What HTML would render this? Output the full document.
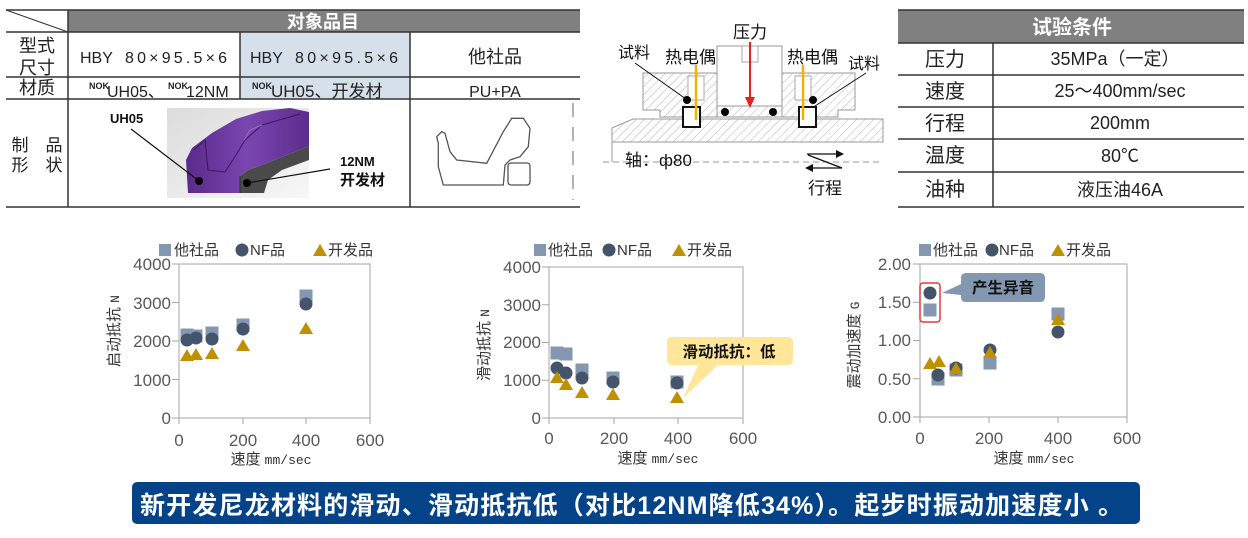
<!DOCTYPE html>
<html><head><meta charset="utf-8"><style>
html,body{margin:0;padding:0;background:#fff;}
svg{display:block;}
text{font-family:"Liberation Sans","Noto Sans CJK SC",sans-serif;}
.tk{font-family:"DejaVu Sans","Liberation Sans",sans-serif;font-size:17px;fill:#595959;}
.lg{font-size:15px;fill:#333;}
.mono{font-family:"Liberation Mono","DejaVu Sans Mono",monospace;}
</style></head><body>
<svg width="1248" height="538" viewBox="0 0 1248 538" xmlns="http://www.w3.org/2000/svg">
<defs>
<pattern id="h" patternUnits="userSpaceOnUse" width="6" height="6" patternTransform="rotate(45)">
<rect width="6" height="6" fill="#fff"/><line x1="0" y1="0" x2="0" y2="6" stroke="#b5b5b5" stroke-width="1"/></pattern>
<linearGradient id="bg" x1="0" y1="0" x2="1" y2="1"><stop offset="0" stop-color="#dcdcdc"/><stop offset="1" stop-color="#f7f7f7"/></linearGradient>
<linearGradient id="pu" x1="0" y1="0" x2="1" y2="0"><stop offset="0" stop-color="#5a2a8a"/><stop offset="0.5" stop-color="#7a45b0"/><stop offset="1" stop-color="#5b2d8c"/></linearGradient>
</defs>

<!-- ===== Left table ===== -->
<rect x="68" y="10" width="512" height="22" fill="#808080"/>
<rect x="240" y="32" width="170" height="67" fill="#d6e0eb"/>
<g stroke="#333" stroke-width="1.5">
<line x1="6" y1="10" x2="580" y2="10"/>
<line x1="6" y1="32" x2="580" y2="32"/>
<line x1="6" y1="77" x2="580" y2="77"/>
<line x1="6" y1="99" x2="580" y2="99"/>
<line x1="6" y1="207" x2="580" y2="207"/>
<line x1="68" y1="10" x2="68" y2="207"/>
<line x1="240" y1="32" x2="240" y2="99"/>
<line x1="410" y1="32" x2="410" y2="207"/>
<line x1="6" y1="10" x2="68" y2="32" stroke-width="1"/>
</g>
<text x="323" y="28" font-size="18" font-weight="bold" fill="#fff" text-anchor="middle">对象品目</text>
<text x="37" y="52" font-size="18" text-anchor="middle" fill="#222">型式</text>
<text x="37" y="74" font-size="18" text-anchor="middle" fill="#222">尺寸</text>
<text x="37" y="94" font-size="18" text-anchor="middle" fill="#222">材质</text>
<text x="37" y="151" font-size="17" text-anchor="middle" fill="#222">制　品</text>
<text x="37" y="171" font-size="17" text-anchor="middle" fill="#222">形　状</text>
<text x="80" y="63" font-size="16" fill="#222">HBY</text>
<text x="125" y="63" font-size="16" fill="#222" textLength="102" lengthAdjust="spacing">80×95.5×6</text>
<text x="250" y="63" font-size="16" fill="#222">HBY</text>
<text x="295" y="63" font-size="16" fill="#222" textLength="103" lengthAdjust="spacing">80×95.5×6</text>
<text x="495" y="63" font-size="18" text-anchor="middle" fill="#222">他社品</text>
<text x="89" y="89" font-size="9" font-weight="bold" fill="#222">NOK</text>
<text x="107" y="97" font-size="16" fill="#222">UH05、</text>
<text x="168" y="89" font-size="9" font-weight="bold" fill="#222">NOK</text>
<text x="186" y="97" font-size="16" fill="#222">12NM</text>
<text x="252" y="89" font-size="9" font-weight="bold" fill="#222">NOK</text>
<text x="271" y="97" font-size="17" fill="#222">UH05、开发材</text>
<text x="495" y="97" font-size="16" text-anchor="middle" fill="#222">PU+PA</text>

<!-- seal picture -->
<rect x="167" y="108" width="142" height="90" fill="url(#bg)"/>
<path d="M240,176 L248,170 L262,165 L309,146 L309,160 L282,170 L268,180 L264,193 L240,193 Z" fill="#4a4a4a"/>
<path d="M188,193 L240,193 L240,176 L248,170 L262,165 L309,146 L309,112 L290,108 L262,111 L236,119 L212,133 L192,148 L186,160 Z" fill="url(#pu)"/>
<path d="M194,150 L205,140 L208,170 L225,172 L236,155 L245,140 L262,125 L300,114" fill="none" stroke="#3c1a60" stroke-width="1"/>
<path d="M244,140 L250,130 L262,125" fill="none" stroke="#9a70c8" stroke-width="1"/>
<path d="M240,176 L240,193" stroke="#2a2a2a" stroke-width="1"/>
<text x="110" y="123" font-size="13" font-weight="bold" fill="#111">UH05</text>
<line x1="131" y1="129" x2="199" y2="181" stroke="#111" stroke-width="1.2"/>
<circle cx="199" cy="181" r="4" fill="#000"/>
<text x="340" y="166" font-size="13" font-weight="bold" fill="#111">12NM</text>
<text x="340" y="185" font-size="15" font-weight="bold" fill="#111">开发材</text>
<line x1="330" y1="169" x2="247" y2="183" stroke="#111" stroke-width="1.2"/>
<circle cx="247" cy="183" r="4" fill="#000"/>

<!-- other company profile -->
<path d="M436.7,136.7 L441.7,131.7 L445,133.3 L450,151.7 L456.7,160 L486.7,163.3 L503.3,131.7 L511.7,118.3 L523.3,118.3 L530,128.3 L528.3,146.7 L520,156.7 L510,160 L505,165 L503.3,185 L443.3,185 L438.3,166.7 L438.3,143.3 Z" fill="none" stroke="#555" stroke-width="1.3"/>
<rect x="508" y="163" width="22" height="22" rx="3" fill="none" stroke="#555" stroke-width="1.3"/>
<line x1="573" y1="103" x2="573" y2="200" stroke="#666" stroke-width="1" stroke-dasharray="14,10"/>

<!-- ===== Middle diagram ===== -->
<polygon points="612,128 633,119 883,119 883,142 612,142" fill="url(#h)" stroke="#999" stroke-width="1"/>
<line x1="612" y1="142" x2="612" y2="162" stroke="#999"/>
<line x1="603" y1="162" x2="883" y2="162" stroke="#999" stroke-dasharray="6,4"/>
<polygon points="643,73 717,73 717,117 660,117 660,110 643,110" fill="url(#h)" stroke="#999"/>
<polygon points="782,73 855,73 855,110 838,110 838,117 782,117" fill="url(#h)" stroke="#999"/>
<rect x="717" y="104" width="65" height="13" fill="url(#h)" stroke="#999"/>
<rect x="717" y="46" width="65" height="60" fill="#fff" stroke="#999"/>
<rect x="742" y="46" width="16" height="16" fill="none" stroke="#aaa"/>
<rect x="688" y="76" width="16" height="24" fill="#fff" stroke="#aaa"/>
<rect x="795" y="76" width="16" height="24" fill="#fff" stroke="#aaa"/>
<rect x="683" y="107" width="17" height="20" fill="#fff" stroke="#111" stroke-width="2"/>
<rect x="799" y="107" width="17" height="20" fill="#fff" stroke="#111" stroke-width="2"/>
<line x1="696" y1="65" x2="696" y2="120" stroke="#f2b200" stroke-width="2.5"/>
<line x1="803" y1="65" x2="803" y2="120" stroke="#f2b200" stroke-width="2.5"/>
<line x1="750" y1="42" x2="750" y2="98" stroke="#e8201c" stroke-width="2"/>
<polygon points="745,97 755,97 750,108" fill="#e8201c"/>
<circle cx="687" cy="100" r="4" fill="#000"/>
<circle cx="725" cy="112" r="4" fill="#000"/>
<circle cx="773" cy="112" r="4" fill="#000"/>
<circle cx="813" cy="100" r="4" fill="#000"/>
<line x1="635" y1="63" x2="686" y2="99" stroke="#111" stroke-width="1"/>
<line x1="866" y1="73" x2="815" y2="106" stroke="#111" stroke-width="1"/>
<text x="750" y="38" font-size="17" text-anchor="middle" fill="#111">压力</text>
<text x="618" y="58" font-size="16" fill="#111">试料</text>
<text x="665" y="63" font-size="17" fill="#111">热电偶</text>
<text x="787" y="63" font-size="17" fill="#111">热电偶</text>
<text x="848" y="69" font-size="16" fill="#111">试料</text>
<text x="625" y="166" font-size="17" fill="#111">轴：ф80</text>
<g stroke="#111" stroke-width="1.3" fill="none">
<line x1="807" y1="154" x2="838" y2="154"/><line x1="808" y1="155" x2="842" y2="168"/><line x1="842" y1="168" x2="811" y2="168"/>
</g>
<polygon points="836,150 844,154 836,158" fill="#111"/>
<polygon points="813,164 805,168 813,172" fill="#111"/>
<text x="808" y="194" font-size="17" fill="#111">行程</text>

<!-- ===== Right table ===== -->
<rect x="898" y="10" width="346" height="33" fill="#808080"/>
<g stroke="#333" stroke-width="1.5">
<line x1="898" y1="10" x2="1244" y2="10"/>
<line x1="898" y1="43" x2="1244" y2="43"/>
<line x1="898" y1="75" x2="1244" y2="75"/>
<line x1="898" y1="107" x2="1244" y2="107"/>
<line x1="898" y1="139" x2="1244" y2="139"/>
<line x1="898" y1="172" x2="1244" y2="172"/>
<line x1="898" y1="207" x2="1244" y2="207"/>
<line x1="993" y1="43" x2="993" y2="207"/>
</g>
<text x="1072" y="34" font-size="20" font-weight="bold" fill="#fff" text-anchor="middle">试验条件</text>
<g font-size="20" fill="#222" text-anchor="middle">
<text x="945" y="66">压力</text><text x="945" y="98">速度</text><text x="945" y="130">行程</text><text x="945" y="162">温度</text><text x="945" y="196">油种</text>
</g>
<g font-size="18" fill="#222" text-anchor="middle">
<text x="1115" y="65">35MPa（一定）</text>
<text x="1120" y="97">25～400mm/sec</text>
<text x="1120" y="129">200mm</text>
<text x="1120" y="162">80℃</text>
<text x="1120" y="196">液压油46A</text>
</g>

<!-- ===== Chart 1 ===== -->
<g stroke="#a6a6a6" stroke-width="1" fill="none">
<rect x="179" y="264" width="191" height="154"/>
<line x1="172" y1="264" x2="179" y2="264"/><line x1="172" y1="302.5" x2="179" y2="302.5"/><line x1="172" y1="341" x2="179" y2="341"/><line x1="172" y1="379.5" x2="179" y2="379.5"/><line x1="172" y1="418" x2="179" y2="418"/>
<line x1="179" y1="418" x2="179" y2="424"/><line x1="243" y1="418" x2="243" y2="424"/><line x1="306" y1="418" x2="306" y2="424"/><line x1="370" y1="418" x2="370" y2="424"/>
</g>
<g class="tk" text-anchor="end">
<text x="171" y="270">4000</text><text x="171" y="309">3000</text><text x="171" y="347">2000</text><text x="171" y="386">1000</text><text x="171" y="424">0</text>
</g>
<g class="tk" text-anchor="middle">
<text x="179" y="446">0</text><text x="243" y="446">200</text><text x="306" y="446">400</text><text x="370" y="446">600</text>
</g>
<text transform="translate(119,331) rotate(-90)" text-anchor="middle" font-size="15" fill="#333">启动抵抗 <tspan class="mono" font-size="13">N</tspan></text>
<text x="271" y="464" text-anchor="middle" font-size="15" fill="#333">速度 <tspan class="mono" font-size="13">mm/sec</tspan></text>
<rect x="159" y="244" width="12" height="12" fill="#8497b0"/>
<text x="174" y="255" class="lg">他社品</text>
<circle cx="242" cy="250" r="6.5" fill="#44546a"/>
<text x="250" y="255" class="lg">NF品</text>
<polygon points="320,244 327,256 313,256" fill="#bf9000"/>
<text x="328" y="255" class="lg">开发品</text>
<g fill="#8497b0">
<rect x="180.5" y="328.5" width="13" height="13"/><rect x="189.5" y="329.5" width="13" height="13"/><rect x="205.5" y="326.5" width="13" height="13"/><rect x="236.5" y="318.5" width="13" height="13"/><rect x="299.5" y="289.5" width="13" height="13"/>
</g>
<g fill="#44546a">
<circle cx="187" cy="340" r="6.5"/><circle cx="196" cy="338" r="6.5"/><circle cx="212" cy="339" r="6.5"/><circle cx="243" cy="329" r="6.5"/><circle cx="306" cy="304" r="6.5"/>
</g>
<g fill="#bf9000">
<polygon points="187,349 194,361 180,361"/><polygon points="196,348 203,360 189,360"/><polygon points="212,347 219,359 205,359"/><polygon points="243,339 250,351 236,351"/><polygon points="306,322 313,334 299,334"/>
</g>

<!-- ===== Chart 2 ===== -->
<g stroke="#a6a6a6" stroke-width="1" fill="none">
<rect x="549" y="267" width="194" height="151"/>
<line x1="542" y1="267" x2="549" y2="267"/><line x1="542" y1="304.75" x2="549" y2="304.75"/><line x1="542" y1="342.5" x2="549" y2="342.5"/><line x1="542" y1="380.25" x2="549" y2="380.25"/><line x1="542" y1="418" x2="549" y2="418"/>
<line x1="549" y1="418" x2="549" y2="424"/><line x1="614" y1="418" x2="614" y2="424"/><line x1="678" y1="418" x2="678" y2="424"/><line x1="743" y1="418" x2="743" y2="424"/>
</g>
<g class="tk" text-anchor="end">
<text x="541" y="273">4000</text><text x="541" y="311">3000</text><text x="541" y="348">2000</text><text x="541" y="386">1000</text><text x="541" y="424">0</text>
</g>
<g class="tk" text-anchor="middle">
<text x="549" y="444">0</text><text x="614" y="444">200</text><text x="678" y="444">400</text><text x="743" y="444">600</text>
</g>
<text transform="translate(489,345) rotate(-90)" text-anchor="middle" font-size="15" fill="#333">滑动抵抗 <tspan class="mono" font-size="13">N</tspan></text>
<text x="658" y="463" text-anchor="middle" font-size="15" fill="#333">速度 <tspan class="mono" font-size="13">mm/sec</tspan></text>
<rect x="534" y="244" width="12" height="12" fill="#8497b0"/>
<text x="548" y="255" class="lg">他社品</text>
<circle cx="609" cy="250" r="6.5" fill="#44546a"/>
<text x="617" y="255" class="lg">NF品</text>
<polygon points="679,244 686,256 672,256" fill="#bf9000"/>
<text x="687" y="255" class="lg">开发品</text>
<g fill="#8497b0">
<rect x="550.5" y="346.5" width="13" height="13"/><rect x="559.5" y="347.5" width="13" height="13"/><rect x="575.5" y="363.5" width="13" height="13"/><rect x="606.5" y="371.5" width="13" height="13"/><rect x="670.5" y="375.5" width="13" height="13"/>
</g>
<g fill="#44546a">
<circle cx="557" cy="368" r="6.5"/><circle cx="566" cy="373" r="6.5"/><circle cx="582" cy="378" r="6.5"/><circle cx="613" cy="382" r="6.5"/><circle cx="677" cy="383" r="6.5"/>
</g>
<g fill="#bf9000">
<polygon points="557,371 564,383 550,383"/><polygon points="566,378 573,390 559,390"/><polygon points="582,386 589,398 575,398"/><polygon points="613,388 620,400 606,400"/><polygon points="677,391 684,403 670,403"/>
</g>
<path d="M672,337 L788,337 Q793,337 793,342 L793,360 Q793,365 788,365 L718,365 L683,398 L698,365 L672,365 Q667,365 667,360 L667,342 Q667,337 672,337 Z" fill="#ffe699"/>
<text x="729" y="357" text-anchor="middle" font-size="15.5" font-weight="bold" fill="#111">滑动抵抗：低</text>

<!-- ===== Chart 3 ===== -->
<g stroke="#a6a6a6" stroke-width="1" fill="none">
<rect x="920" y="264" width="207" height="153"/>
<line x1="913" y1="264" x2="920" y2="264"/><line x1="913" y1="302.25" x2="920" y2="302.25"/><line x1="913" y1="340.5" x2="920" y2="340.5"/><line x1="913" y1="378.75" x2="920" y2="378.75"/><line x1="913" y1="417" x2="920" y2="417"/>
<line x1="920" y1="417" x2="920" y2="423"/><line x1="989" y1="417" x2="989" y2="423"/><line x1="1058" y1="417" x2="1058" y2="423"/><line x1="1127" y1="417" x2="1127" y2="423"/>
</g>
<g class="tk" text-anchor="end">
<text x="911" y="270">2.00</text><text x="911" y="308">1.50</text><text x="911" y="346">1.00</text><text x="911" y="385">0.50</text><text x="911" y="423">0.00</text>
</g>
<g class="tk" text-anchor="middle">
<text x="920" y="444">0</text><text x="989" y="444">200</text><text x="1058" y="444">400</text><text x="1127" y="444">600</text>
</g>
<text transform="translate(859,345) rotate(-90)" text-anchor="middle" font-size="15" fill="#333">震动加速度 <tspan class="mono" font-size="13">G</tspan></text>
<text x="1034" y="463" text-anchor="middle" font-size="15" fill="#333">速度 <tspan class="mono" font-size="13">mm/sec</tspan></text>
<rect x="919" y="244" width="12" height="12" fill="#8497b0"/>
<text x="933" y="255" class="lg">他社品</text>
<circle cx="992" cy="250" r="6.5" fill="#44546a"/>
<text x="999" y="255" class="lg">NF品</text>
<polygon points="1058,244 1065,256 1051,256" fill="#bf9000"/>
<text x="1066" y="255" class="lg">开发品</text>
<g fill="#8497b0">
<rect x="923.5" y="303.5" width="13" height="13"/><rect x="931.5" y="372.5" width="13" height="13"/><rect x="949.5" y="363.5" width="13" height="13"/><rect x="983.5" y="356.5" width="13" height="13"/><rect x="1051.5" y="307.5" width="13" height="13"/>
</g>
<g fill="#44546a">
<circle cx="930" cy="293" r="6.5"/><circle cx="938" cy="375" r="6.5"/><circle cx="956" cy="368" r="6.5"/><circle cx="990" cy="350" r="6.5"/><circle cx="1058" cy="332" r="6.5"/>
</g>
<g fill="#bf9000">
<polygon points="930,357 937,369 923,369"/><polygon points="939,355 946,367 932,367"/><polygon points="956,362 963,374 949,374"/><polygon points="990,346 997,358 983,358"/><polygon points="1058,313 1065,325 1051,325"/>
</g>
<rect x="920" y="283" width="20" height="39" rx="3" fill="none" stroke="#e23a3a" stroke-width="1.5"/>
<path d="M966,273 L1040,273 Q1045,273 1045,278 L1045,297 Q1045,302 1040,302 L966,302 Q961,302 961,297 L961,295 L942,293 L961,284 L961,278 Q961,273 966,273 Z" fill="#8497b0"/>
<text x="1003" y="293" text-anchor="middle" font-size="15.5" font-weight="bold" fill="#111">产生异音</text>

<!-- ===== Bottom banner ===== -->
<rect x="132" y="482" width="1008" height="42" rx="5" fill="#054389"/>
<text x="140" y="514" font-size="25" font-weight="bold" fill="#fff" textLength="983" lengthAdjust="spacing">新开发尼龙材料的滑动、滑动抵抗低（对比12NM降低34%）。起步时振动加速度小 。</text>
</svg>
</body></html>
